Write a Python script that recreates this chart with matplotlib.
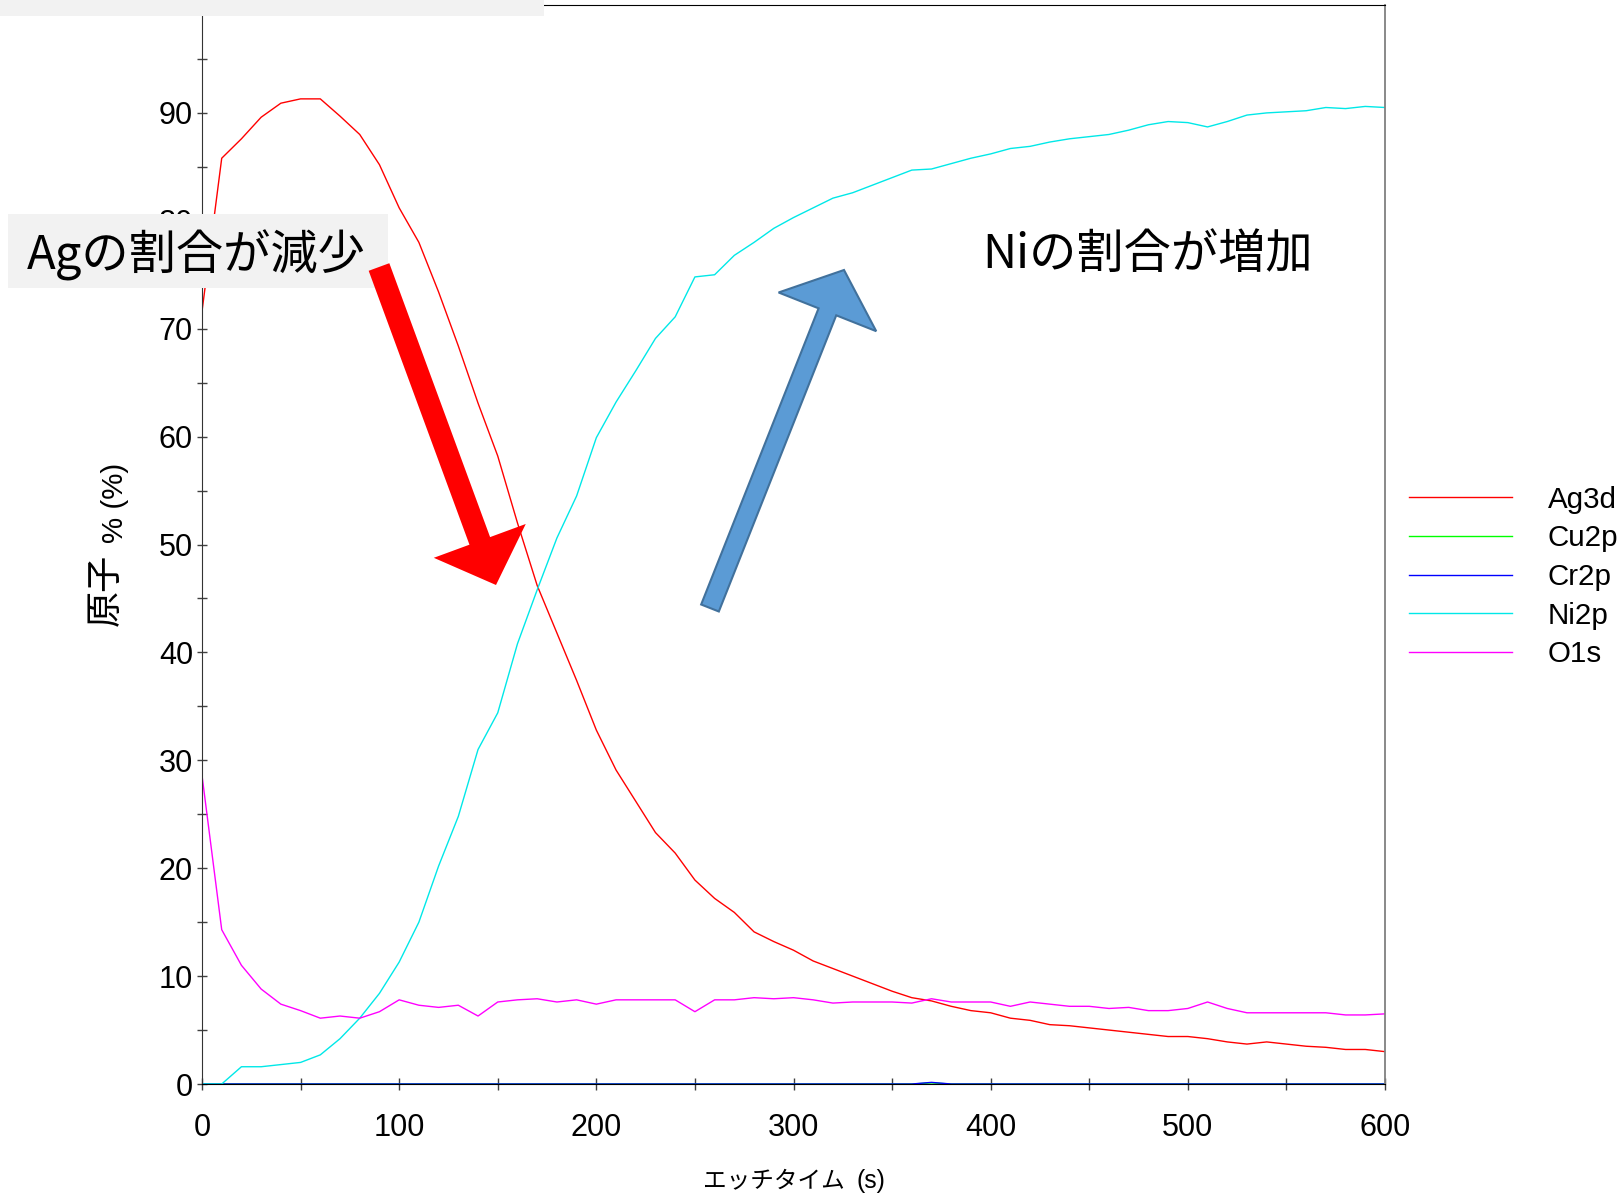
import numpy as np
import matplotlib
matplotlib.use('Agg')
import matplotlib.pyplot as plt
from matplotlib import font_manager
from matplotlib.patches import Rectangle, FancyArrow

installed = {f.name for f in font_manager.fontManager.ttflist}
NARROW = 'Liberation Sans Narrow' in installed
LAT = 'Liberation Sans Narrow' if NARROW else 'Liberation Sans'
scale = 1.0 if NARROW else 0.85

plt.rcParams['font.family'] = [LAT, 'Noto Sans CJK JP', 'DejaVu Sans']
JP = ['Noto Sans CJK JP', 'DejaVu Sans']

# Etch time (s), sampled every 10 s
etch_time = np.arange(0, 601, 10)

ag3d = [71.6, 85.8, 87.6, 89.6, 90.9, 91.3, 91.3, 89.7, 88.0, 85.2,
        81.2, 78.0, 73.4, 68.4, 63.1, 58.2, 52.0, 46.2, 41.8, 37.4,
        32.8, 29.1, 26.2, 23.3, 21.4, 18.9, 17.2, 15.9, 14.1, 13.2,
        12.4, 11.4, 10.7, 10.0, 9.3, 8.6, 8.0, 7.7, 7.2, 6.8,
        6.6, 6.1, 5.9, 5.5, 5.4, 5.2, 5.0, 4.8, 4.6, 4.4,
        4.4, 4.2, 3.9, 3.7, 3.9, 3.7, 3.5, 3.4, 3.2, 3.2,
        3.0]
cu2p = [0.0] * 37 + [0.1] + [0.0] * 23
cr2p = [0.0] * 37 + [0.15] + [0.0] * 23
ni2p = [0.0, 0.0, 1.6, 1.6, 1.8, 2.0, 2.7, 4.2, 6.1, 8.4,
        11.3, 15.0, 20.2, 24.8, 31.0, 34.4, 40.8, 45.8, 50.6, 54.5,
        59.9, 63.2, 66.1, 69.1, 71.1, 74.8, 75.0, 76.8, 78.0, 79.3,
        80.3, 81.2, 82.1, 82.6, 83.3, 84.0, 84.7, 84.8, 85.3, 85.8,
        86.2, 86.7, 86.9, 87.3, 87.6, 87.8, 88.0, 88.4, 88.9, 89.2,
        89.1, 88.7, 89.2, 89.8, 90.0, 90.1, 90.2, 90.5, 90.4, 90.6,
        90.5]
o1s = [28.6, 14.3, 11.0, 8.8, 7.4, 6.8, 6.1, 6.3, 6.1, 6.7,
       7.8, 7.3, 7.1, 7.3, 6.3, 7.6, 7.8, 7.9, 7.6, 7.8,
       7.4, 7.8, 7.8, 7.8, 7.8, 6.7, 7.8, 7.8, 8.0, 7.9,
       8.0, 7.8, 7.5, 7.6, 7.6, 7.6, 7.5, 7.9, 7.6, 7.6,
       7.6, 7.2, 7.6, 7.4, 7.2, 7.2, 7.0, 7.1, 6.8, 6.8,
       7.0, 7.6, 7.0, 6.6, 6.6, 6.6, 6.6, 6.6, 6.4, 6.4,
       6.5]

labels = ['Ag3d', 'Cu2p', 'Cr2p', 'Ni2p', 'O1s']
colors = ['#ff0000', '#00ff00', '#0000ff', '#00e8e8', '#ff00ff']
series = [ag3d, cu2p, cr2p, ni2p, o1s]

W, H = 1622, 1202
fig = plt.figure(figsize=(W / 100, H / 100), dpi=100)
ax = fig.add_axes([202 / W, 1 - 1084 / H, (1385 - 202) / W, (1084 - 5) / H])

for vals, lab, col in zip(series, labels, colors):
    ax.plot(etch_time, vals, color=col, lw=1.0, label=lab)

ax.set_xlim(0, 600)
ax.set_ylim(0, 100)

xt = np.arange(0, 601, 50)
ax.set_xticks(xt)
ax.set_xticklabels([str(v) if v % 100 == 0 else '' for v in xt])
yt = np.arange(0, 101, 5)
ax.set_yticks(yt)
ax.set_yticklabels([str(v) if v % 10 == 0 else '' for v in yt])
ax.tick_params(axis='x', direction='inout', length=8, width=1, pad=17,
               labelsize=26 * scale, color='#404040')
ax.tick_params(axis='y', direction='inout', length=7, width=1, pad=3,
               labelsize=26 * scale, color='#404040')

ax.spines['top'].set_color('black')
ax.spines['right'].set_color('#808080')
ax.spines['right'].set_linewidth(1.3)
ax.spines['left'].set_color('#333333')

ax.legend(loc='center left', bbox_to_anchor=(1409 / W, 1 - 577 / H),
          bbox_transform=fig.transFigure, frameon=False, fontsize=25 * scale,
          handlelength=3.5, handletextpad=1.2, labelspacing=0.36,
          borderpad=0, borderaxespad=0)

# overlay in pixel coordinates for the slide annotations
ov = fig.add_axes([0, 0, 1, 1], zorder=5)
ov.set_xlim(0, W)
ov.set_ylim(H, 0)
ov.axis('off')
ov.patch.set_visible(False)

ov.add_patch(Rectangle((0, 0), 544, 16, color='#f2f2f2', lw=0))
ov.add_patch(Rectangle((8, 214), 380, 74, color='#f2f2f2', lw=0))
ov.text(27, 255, 'Agの割合が減少', fontsize=34, family=JP, ha='left', va='center')
ov.text(982, 255, 'Niの割合が増加', fontsize=34, family=JP, ha='left', va='center')

ov.add_patch(FancyArrow(379, 267, 496 - 379, 585 - 267, width=22, head_width=98,
                        head_length=47, length_includes_head=True,
                        facecolor='#ff0000', edgecolor='none', lw=0))
ov.add_patch(FancyArrow(710, 608, 844 - 710, 270 - 608, width=19, head_width=105,
                        head_length=45, length_includes_head=True,
                        facecolor='#5b9bd5', edgecolor='#41719c', lw=1.5))

# axis titles
ov.text(703, 1181, 'エッチタイム', fontsize=17, family=JP, ha='left', va='center')
ov.text(856, 1181, '(s)', fontsize=21 * scale, ha='left', va='center')
ov.text(106, 590, '原子', fontsize=26, family=JP, rotation=90, ha='center', va='center')
ov.text(115, 503, '% (%)', fontsize=25 * scale, rotation=90, ha='center', va='center')

fig.savefig('out.png', dpi=100)
